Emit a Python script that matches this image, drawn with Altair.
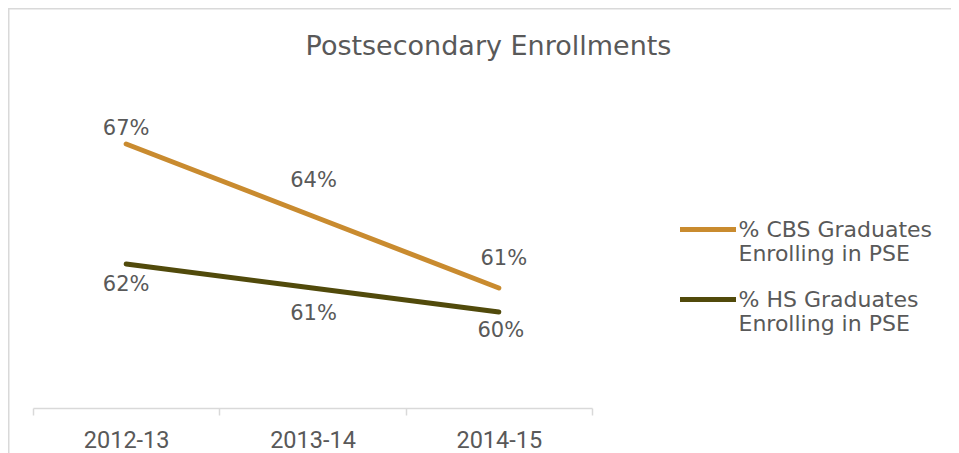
import altair as alt
import pandas as pd

years = ["2012-13", "2013-14", "2014-15"]
series = ["% CBS Graduates Enrolling in PSE", "% HS Graduates Enrolling in PSE"]
cbs_values = [67, 64, 61]
hs_values = [62, 61, 60]
colors = ["#C98B2F", "#514A0B"]
title_text = "Postsecondary Enrollments"

rows = []
for s, vals in zip(series, [cbs_values, hs_values]):
    for yr, v in zip(years, vals):
        rows.append({"year": yr, "series": s, "value": v, "label": f"{v}%"})
df = pd.DataFrame(rows)

TEXT = "#595959"
GRID = "#D9D9D9"

x_enc = alt.X(
    "year:N",
    sort=years,
    scale=alt.Scale(type="band", paddingInner=0, paddingOuter=0),
    axis=alt.Axis(
        title=None, labelAngle=0, tickBand="extent", domainColor=GRID,
        domainWidth=1.5, tickColor=GRID, tickWidth=1.5, tickSize=7,
        labelFont="Roboto", labelFontSize=23.5, labelColor=TEXT, labelPadding=13,
        grid=False,
    ),
)
y_enc = alt.Y("value:Q", scale=alt.Scale(domain=[56, 69], nice=False, zero=False), axis=None)
color_enc = alt.Color(
    "series:N",
    sort=series,
    scale=alt.Scale(domain=series, range=colors),
    legend=alt.Legend(
        title=None, orient="none", legendX=644.5, legendY=103,
        symbolType="stroke", symbolSize=3136, symbolStrokeWidth=5,
        labelFont="DejaVu Sans", labelFontSize=22, labelColor=TEXT,
        labelLimit=400, labelOffset=0, labelBaseline="middle", rowPadding=4,
        padding=0,
        labelExpr="[substring(datum.label, 0, indexof(datum.label, ' Enrolling')), substring(datum.label, indexof(datum.label, ' Enrolling') + 1)]",
    ),
)

base = alt.Chart(df)

lines = base.mark_line(strokeWidth=5, strokeCap="round", strokeJoin="round").encode(
    x=x_enc, y=y_enc, color=color_enc, detail="series:N"
)

# label offsets (style) per series / year
offsets = {
    (series[0], years[0]): (0, -15),
    (series[0], years[1]): (1, -35),
    (series[0], years[2]): (5, -29),
    (series[1], years[0]): (0, 21),
    (series[1], years[1]): (1, 26),
    (series[1], years[2]): (2, 19),
}

label_layers = []
for (s, yr), (dx, dy) in offsets.items():
    label_layers.append(
        base.transform_filter(
            (alt.datum.series == s) & (alt.datum.year == yr)
        ).mark_text(
            font="DejaVu Sans", fontSize=21, color=TEXT, baseline="middle",
            align="center", dx=dx, dy=dy,
        ).encode(x=x_enc, y=y_enc, text="label:N")
    )

frame = alt.Chart(pd.DataFrame({"a": [0]})).mark_rect(
    fill="transparent", stroke=GRID, strokeWidth=1.5
).encode(
    x=alt.value(-24.25), y=alt.value(-87.25), x2=alt.value(2000), y2=alt.value(2000)
)

title = alt.Chart(pd.DataFrame({"t": [title_text]})).mark_text(
    font="DejaVu Sans", fontSize=27, color=TEXT, align="center", baseline="alphabetic"
).encode(x=alt.value(455.5), y=alt.value(-41), text="t:N")

chart = alt.layer(frame, title, lines, *label_layers).properties(
    width=559,
    height=312,
    padding={"left": 25, "top": 88, "right": 359, "bottom": 45},
    autosize=alt.AutoSizeParams(type="none"),
).configure_view(strokeWidth=0)

chart.save("out.html", embed_options={"renderer": "svg", "actions": False})
